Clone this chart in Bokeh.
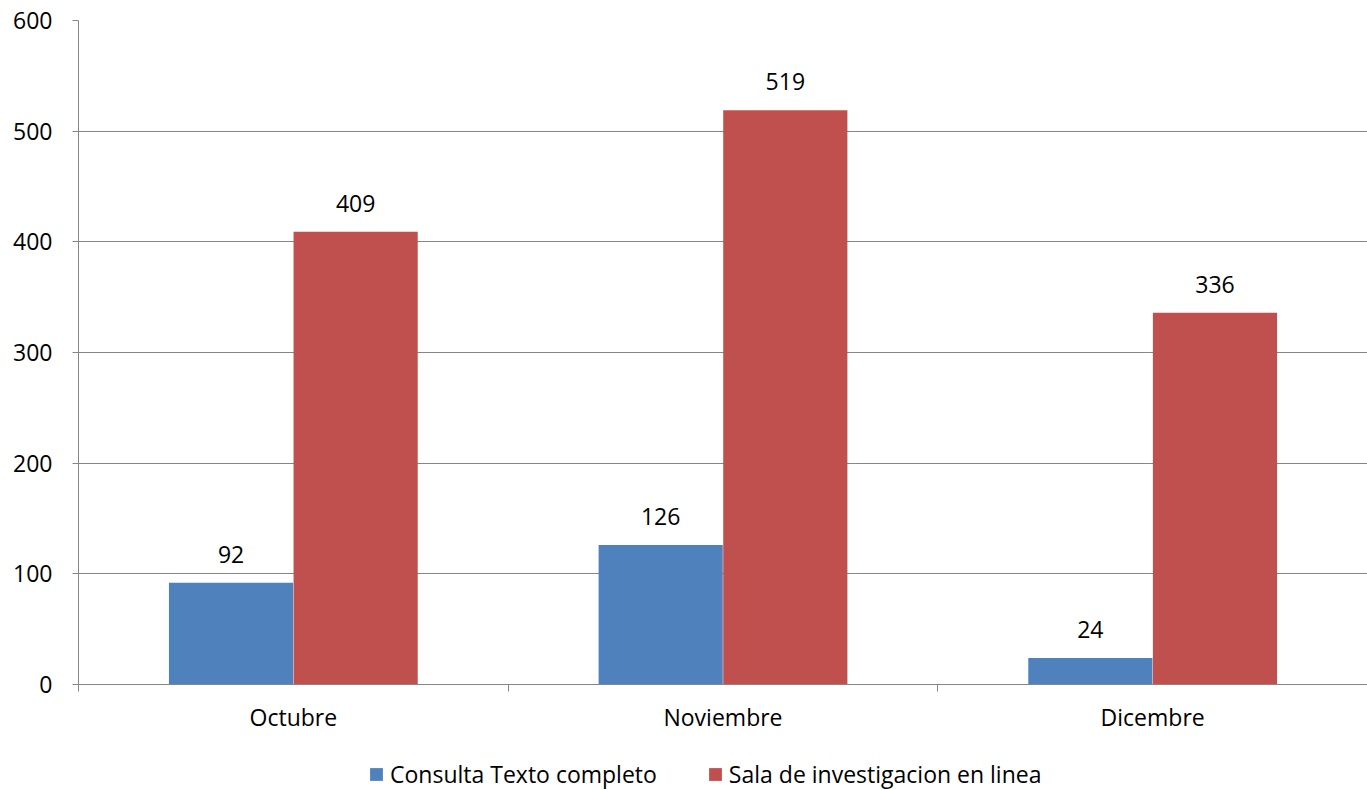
import numpy as np
from bokeh.plotting import figure
from bokeh.layouts import column
from bokeh.models import ColumnDataSource, Range1d, FixedTicker, Legend, LegendItem
from bokeh.transform import dodge
from bokeh.core.properties import value
from bokeh.embed import file_html
from bokeh.resources import INLINE

categories = ["Octubre", "Noviembre", "Dicembre"]
consulta = [92, 126, 24]
sala = [409, 519, 336]
series_names = ["Consulta Texto completo", "Sala de investigacion en linea"]
colors = ["#4F81BD", "#C0504D"]

FONT = "Open Sans"
GREY = "#868686"
FS = "23px"

centers = np.arange(len(categories)) + 0.5
src = ColumnDataSource(dict(x=centers, cat=categories, consulta=consulta, sala=sala,
                            consulta_lbl=[str(v) for v in consulta],
                            sala_lbl=[str(v) for v in sala]))

p = figure(frame_width=1289, frame_height=664, output_backend="svg", toolbar_location=None,
           x_range=Range1d(0, len(categories)), y_range=Range1d(0, 600),
           min_border_left=78, min_border_right=0, min_border_top=20, min_border_bottom=60)
p.outline_line_color = None
p.xgrid.grid_line_color = None
p.ygrid.grid_line_color = GREY
p.ygrid.grid_line_width = 1
p.background_fill_color = "white"
p.border_fill_color = "white"

off = 0.145
w = 0.289
r1 = p.vbar(x=dodge("x", -off, range=p.x_range), top="consulta", width=w, source=src,
            fill_color=colors[0], line_color=None)
r2 = p.vbar(x=dodge("x", off, range=p.x_range), top="sala", width=w, source=src,
            fill_color=colors[1], line_color=None)

p.text(x=dodge("x", -off, range=p.x_range), y="consulta", text="consulta_lbl", source=src,
       text_align="center", text_baseline="bottom", y_offset=-20,
       text_font=value(FONT), text_font_size=FS, text_color="black")
p.text(x=dodge("x", off, range=p.x_range), y="sala", text="sala_lbl", source=src,
       text_align="center", text_baseline="bottom", y_offset=-20,
       text_font=value(FONT), text_font_size=FS, text_color="black")

# x axis
xa = p.xaxis[0]
xa.ticker = FixedTicker(ticks=list(centers), minor_ticks=list(range(len(categories) + 1)))
xa.major_label_overrides = {float(c): name for c, name in zip(centers, categories)}
xa.major_tick_out = 0
xa.major_tick_in = 0
xa.minor_tick_out = 7
xa.minor_tick_in = 0
xa.minor_tick_line_color = GREY
xa.axis_line_color = GREY
xa.major_label_text_font = FONT
xa.major_label_text_font_size = FS
xa.major_label_text_color = "black"
xa.major_label_standoff = 9

# y axis
ya = p.yaxis[0]
ya.ticker = FixedTicker(ticks=[0, 100, 200, 300, 400, 500, 600])
ya.major_tick_out = 6
ya.major_tick_in = 0
ya.minor_tick_line_color = None
ya.major_tick_line_color = GREY
ya.axis_line_color = GREY
ya.major_label_text_font = FONT
ya.major_label_text_font_size = FS
ya.major_label_text_color = "black"
ya.major_label_standoff = 20

# legend strip below the chart (proxy bars sit outside its visible range)
lg = figure(width=1367, height=46, output_backend="svg", toolbar_location=None,
            x_range=Range1d(-20, -19), y_range=Range1d(-20, -19),
            x_axis_type=None, y_axis_type=None, min_border=0)
lg.outline_line_color = None
lg.background_fill_color = "white"
lg.border_fill_color = "white"
k1 = lg.vbar(x="x", top="consulta", width=w, source=src, fill_color=colors[0], line_color=None)
k2 = lg.vbar(x="x", top="sala", width=w, source=src, fill_color=colors[1], line_color=None)
legend = Legend(items=[LegendItem(label=series_names[0], renderers=[k1]),
                       LegendItem(label=series_names[1], renderers=[k2])],
                orientation="horizontal", location=(290, 0),
                label_text_font=FONT, label_text_font_size=FS, label_text_color="black",
                glyph_width=16, glyph_height=16, label_standoff=6, spacing=50,
                border_line_color=None, background_fill_alpha=0, margin=0, padding=0)
lg.add_layout(legend)

layout = column(p, lg, spacing=0)
open("out.html", "w").write(file_html(layout, INLINE))
